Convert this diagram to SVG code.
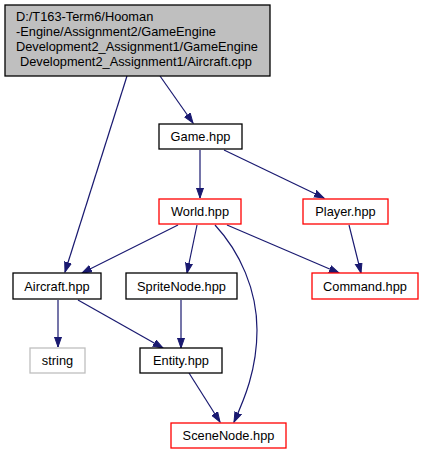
<svg xmlns="http://www.w3.org/2000/svg" width="425" height="455" viewBox="0 0 425 455">
<style>
text{font-family:"Liberation Sans",Arial,sans-serif;font-size:12.8px;fill:#000}
.c{text-anchor:middle}
.box{fill:#fff;stroke-width:1.3}
.blk{stroke:#000}
.red{stroke:#ff0000}
.gry{stroke:#bfbfbf}
.e{fill:none;stroke:#191970;stroke-width:1.2}
</style>
<defs>
<marker id="ah" markerUnits="userSpaceOnUse" markerWidth="12" markerHeight="10" refX="10" refY="4" orient="auto">
<path d="M0,0.5 L10,4 L0,7.5 z" fill="#191970" stroke="#191970" stroke-width="1"/>
</marker>
</defs>
<rect width="425" height="455" fill="#fff"/>
<g id="edges">
<path class="e" d="M127,76 L65,272" marker-end="url(#ah)"/>
<path class="e" d="M160,76 L193,123" marker-end="url(#ah)"/>
<path class="e" d="M200,150 L200,198" marker-end="url(#ah)"/>
<path class="e" d="M224,150 L324,198" marker-end="url(#ah)"/>
<path class="e" d="M178,225 L82,273" marker-end="url(#ah)"/>
<path class="e" d="M197,225 L187,273" marker-end="url(#ah)"/>
<path class="e" d="M215,225 C240,252 257,290 257,330 C257,370 244,400 234,422" marker-end="url(#ah)"/>
<path class="e" d="M227,225 L339,273" marker-end="url(#ah)"/>
<path class="e" d="M349,225 L361,273" marker-end="url(#ah)"/>
<path class="e" d="M58,300 L58,347" marker-end="url(#ah)"/>
<path class="e" d="M78,300 L163,348" marker-end="url(#ah)"/>
<path class="e" d="M181,300 L181,348" marker-end="url(#ah)"/>
<path class="e" d="M189,373 L220,422" marker-end="url(#ah)"/>
</g>
<g id="aircraft_cpp">
<rect x="5" y="5" width="265" height="71" fill="#bfbfbf" stroke="#000" stroke-width="1.3"/>
<text x="16" y="21">D:/T163-Term6/Hooman</text>
<text x="16" y="36">-Engine/Assignment2/GameEngine</text>
<text x="16" y="51">Development2_Assignment1/GameEngine</text>
<text x="20" y="66">Development2_Assignment1/Aircraft.cpp</text>
</g>
<g id="game_hpp">
<rect class="box blk" x="159" y="124" width="83" height="25"/>
<text class="c" x="200.5" y="141">Game.hpp</text>
</g>
<g id="world_hpp">
<rect class="box red" x="159" y="199" width="82" height="25"/>
<text class="c" x="200" y="216">World.hpp</text>
</g>
<g id="player_hpp">
<rect class="box red" x="303" y="199" width="85" height="25"/>
<text class="c" x="345.5" y="216">Player.hpp</text>
</g>
<g id="aircraft_hpp">
<rect class="box blk" x="13" y="273" width="88" height="26"/>
<text class="c" x="57" y="291">Aircraft.hpp</text>
</g>
<g id="spritenode_hpp">
<rect class="box blk" x="126" y="273" width="111" height="26"/>
<text class="c" x="181.5" y="291">SpriteNode.hpp</text>
</g>
<g id="command_hpp">
<rect class="box red" x="312" y="273" width="106" height="26"/>
<text class="c" x="365" y="291">Command.hpp</text>
</g>
<g id="string">
<rect class="box gry" x="30" y="348" width="55" height="25"/>
<text class="c" x="57.5" y="365">string</text>
</g>
<g id="entity_hpp">
<rect class="box blk" x="140" y="348" width="82" height="25"/>
<text class="c" x="181" y="365">Entity.hpp</text>
</g>
<g id="scenenode_hpp">
<rect class="box red" x="171" y="423" width="115" height="25"/>
<text class="c" x="228.5" y="440">SceneNode.hpp</text>
</g>
</svg>
